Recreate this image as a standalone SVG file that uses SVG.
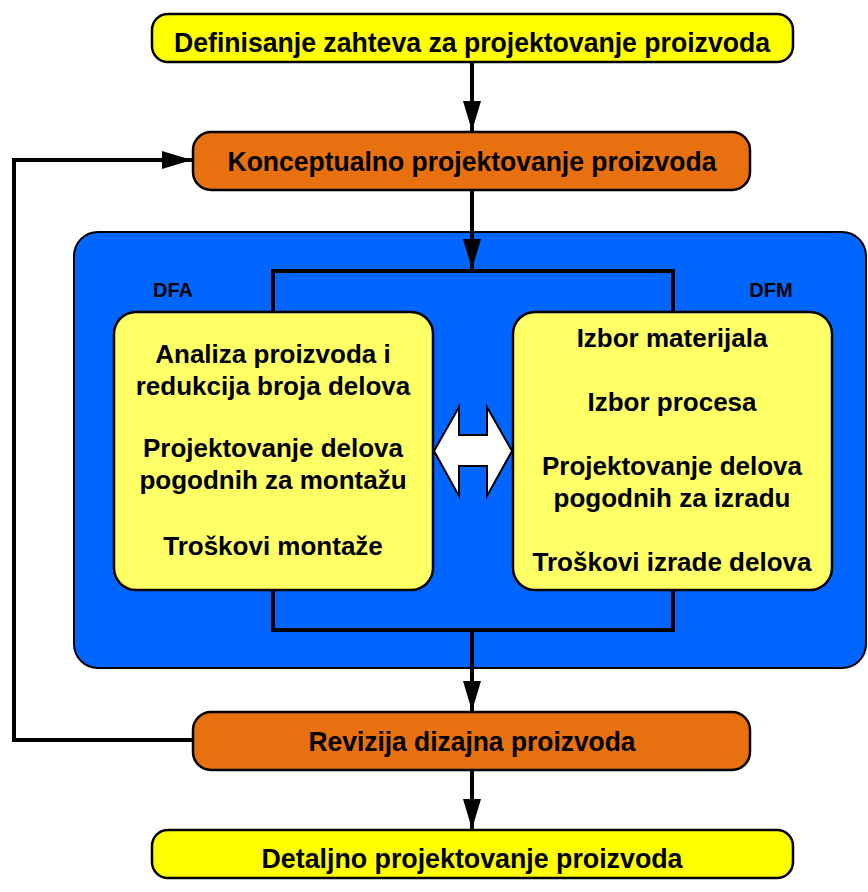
<svg xmlns="http://www.w3.org/2000/svg" width="868" height="892" viewBox="0 0 868 892">
<defs>
<style>
.box{stroke:#000;stroke-width:2.5}
.y1{fill:#FFFF00}
.or{fill:#E8700E}
.y2{fill:#FFFF66}
.blue{fill:#0066FF;stroke:#000;stroke-width:2}
.t1{font-family:"Liberation Sans Narrow","Liberation Sans",Arial,sans-serif;font-weight:bold;font-size:28px;text-anchor:middle;fill:#000}
.t2{font-family:"Liberation Sans",Arial,sans-serif;font-weight:bold;font-size:26px;text-anchor:middle;fill:#000}
.t3{font-family:"Liberation Sans",Arial,sans-serif;font-weight:bold;font-size:20px;text-anchor:middle;fill:#000}
.ln{fill:none;stroke:#000;stroke-width:4}
</style>
<marker id="ah" viewBox="0 0 30 18" refX="30" refY="9" markerWidth="7.5" markerHeight="4.5" markerUnits="strokeWidth" orient="auto">
<path d="M0,0 L30,9 L0,18 z" fill="#000"/>
</marker>
</defs>
<rect width="868" height="892" fill="#fff"/>
<g id="panel">
<rect class="blue" x="74" y="232" width="792" height="436" rx="24"/>
<text class="t3" x="173" y="297">DFA</text>
<text class="t3" x="771" y="297">DFM</text>
</g>
<g id="connectors">
<line class="ln" x1="472" y1="62" x2="472" y2="131" marker-end="url(#ah)"/>
<line class="ln" x1="472" y1="190" x2="472" y2="269" marker-end="url(#ah)"/>
<polyline class="ln" points="273,312 273,271 673,271 673,312"/>
<polyline class="ln" points="273,590 273,630 673,630 673,590"/>
<line class="ln" x1="472" y1="630" x2="472" y2="711" marker-end="url(#ah)"/>
<line class="ln" x1="472" y1="770" x2="472" y2="829" marker-end="url(#ah)"/>
<polyline class="ln" points="193,740 14,740 14,160 192,160" marker-end="url(#ah)"/>
</g>
<g id="n1">
<rect class="box y1" x="152" y="14" width="641" height="48" rx="16"/>
<text class="t1" x="472" y="52" textLength="596" lengthAdjust="spacingAndGlyphs">Definisanje zahteva za projektovanje proizvoda</text>
</g>
<g id="n2">
<rect class="box or" x="193" y="132" width="557" height="58" rx="18"/>
<text class="t1" x="472" y="171" textLength="489" lengthAdjust="spacingAndGlyphs">Konceptualno projektovanje proizvoda</text>
</g>
<g id="dfa">
<rect class="box y2" x="114" y="312" width="319" height="278" rx="22"/>
<text class="t2" x="273" y="363">Analiza proizvoda i</text>
<text class="t2" x="273" y="395">redukcija broja delova</text>
<text class="t2" x="273" y="457">Projektovanje delova</text>
<text class="t2" x="273" y="489">pogodnih za montažu</text>
<text class="t2" x="273" y="555">Troškovi montaže</text>
</g>
<g id="dfm">
<rect class="box y2" x="513" y="312" width="319" height="278" rx="22"/>
<text class="t2" x="672" y="347">Izbor materijala</text>
<text class="t2" x="672" y="411">Izbor procesa</text>
<text class="t2" x="672" y="475">Projektovanje delova</text>
<text class="t2" x="672" y="507">pogodnih za izradu</text>
<text class="t2" x="672" y="571">Troškovi izrade delova</text>
</g>
<g id="dblarrow">
<path d="M434,451 L459,407 L459,435 L487,435 L487,407 L512,451 L487,496 L487,466 L459,466 L459,496 z" fill="#fff" stroke="#000" stroke-width="2"/>
</g>
<g id="n3">
<rect class="box or" x="193" y="712" width="557" height="58" rx="18"/>
<text class="t1" x="472" y="751" textLength="327" lengthAdjust="spacingAndGlyphs">Revizija dizajna proizvoda</text>
</g>
<g id="n4">
<rect class="box y1" x="152" y="830" width="641" height="48" rx="16"/>
<text class="t1" x="472" y="868" textLength="421" lengthAdjust="spacingAndGlyphs">Detaljno projektovanje proizvoda</text>
</g>
</svg>
